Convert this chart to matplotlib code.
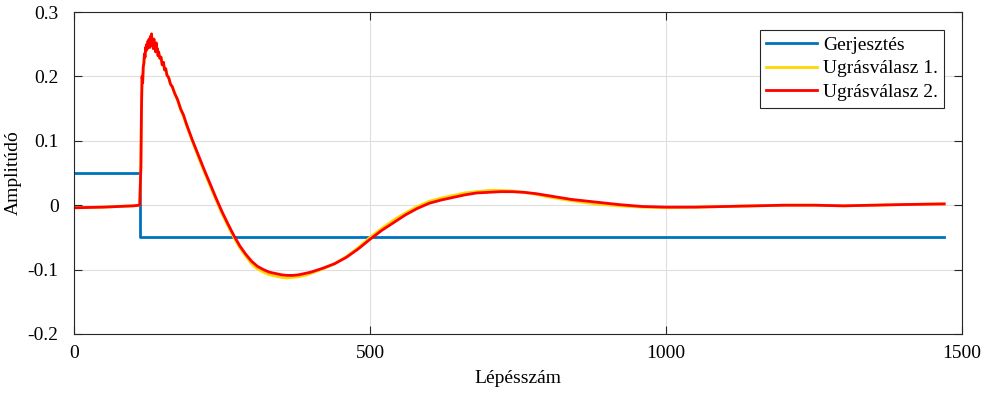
import matplotlib.pyplot as plt

# Excitation (step) signal
exc_x = [0, 111, 111, 1470]
exc_y = [0.05, 0.05, -0.05, -0.05]

# Step responses, sampled by eye from the reference
resp_x = [0, 50, 100, 111, 113, 114, 115, 116, 117, 118, 119, 120, 121, 122,
          123, 124, 125, 126, 127, 128, 129, 130, 131, 132, 133, 134, 135,
          136, 137, 138, 139, 140, 141, 142, 143, 145, 147, 149, 151, 153,
          155, 157, 160, 163, 166, 170, 175, 180, 185, 190, 200, 210, 220,
          230, 240, 250, 260, 270, 280, 290, 300, 310, 320, 330, 340, 350,
          360, 370, 380, 390, 400, 420, 440, 460, 480, 500, 520, 540, 560,
          580, 600, 620, 640, 660, 680, 700, 720, 740, 760, 780, 800, 840,
          880, 920, 960, 1000, 1050, 1100, 1150, 1200, 1250, 1300, 1350,
          1400, 1470]

resp2 = [-0.004, -0.003, -0.001, 0.0, 0.06, 0.15, 0.20, 0.19, 0.215, 0.22,
         0.235, 0.23, 0.245, 0.24, 0.25, 0.243, 0.255, 0.248, 0.258, 0.245,
         0.262, 0.252, 0.266, 0.248, 0.255, 0.243, 0.258, 0.245, 0.25, 0.238,
         0.252, 0.24, 0.243, 0.232, 0.238, 0.228, 0.23, 0.218, 0.222, 0.21,
         0.212, 0.202, 0.198, 0.188, 0.184, 0.174, 0.164, 0.150, 0.140, 0.126,
         0.101, 0.078, 0.055, 0.033, 0.011, -0.010, -0.029, -0.047, -0.063,
         -0.076, -0.087, -0.095, -0.100, -0.104, -0.106, -0.108, -0.109,
         -0.109, -0.108, -0.106, -0.104, -0.098, -0.091, -0.081, -0.068,
         -0.053, -0.039, -0.027, -0.015, -0.005, 0.003, 0.008, 0.012, 0.016,
         0.019, 0.020, 0.021, 0.021, 0.020, 0.018, 0.015, 0.009, 0.005, 0.001,
         -0.002, -0.003, -0.003, -0.002, -0.001, 0.000, 0.000, -0.001, 0.000,
         0.001, 0.002]

resp1 = [-0.004, -0.003, -0.001, 0.0, 0.06, 0.15, 0.20, 0.19, 0.215, 0.22,
         0.235, 0.23, 0.245, 0.24, 0.25, 0.243, 0.255, 0.248, 0.258, 0.245,
         0.262, 0.252, 0.266, 0.248, 0.255, 0.243, 0.258, 0.245, 0.25, 0.238,
         0.252, 0.24, 0.243, 0.232, 0.238, 0.228, 0.23, 0.218, 0.222, 0.21,
         0.212, 0.202, 0.198, 0.188, 0.184, 0.173, 0.163, 0.148, 0.138, 0.124,
         0.099, 0.075, 0.052, 0.030, 0.008, -0.013, -0.032, -0.050, -0.066,
         -0.079, -0.091, -0.099, -0.104, -0.108, -0.110, -0.112, -0.113,
         -0.112, -0.111, -0.109, -0.106, -0.099, -0.091, -0.080, -0.066,
         -0.050, -0.036, -0.023, -0.012, -0.002, 0.006, 0.011, 0.015, 0.019,
         0.021, 0.023, 0.023, 0.022, 0.020, 0.017, 0.013, 0.007, 0.002, -0.001,
         -0.003, -0.004, -0.003, -0.002, -0.001, 0.000, 0.000, -0.001, 0.000,
         0.001, 0.002]

x_ticks = [0, 500, 1000, 1500]
y_ticks = [-0.2, -0.1, 0, 0.1, 0.2, 0.3]
y_ticklabels = ['-0.2', '-0.1', '0', '0.1', '0.2', '0.3']

plt.rcParams['font.family'] = ['Liberation Serif', 'DejaVu Serif']

fig = plt.figure(figsize=(9.84, 3.94), dpi=100)
ax = fig.add_axes([0.0752, 0.1523, 0.9024, 0.8172])

ax.plot(exc_x, exc_y, color='#0072BD', lw=2.0, label='Gerjesztés')
ax.plot(resp_x, resp1, color='#FFD700', lw=2.0, label='Ugrásválasz 1.')
ax.plot(resp_x, resp2, color='#FF0000', lw=2.0, label='Ugrásválasz 2.')

ax.set_xlim(0, 1500)
ax.set_ylim(-0.2, 0.3)
ax.set_xticks(x_ticks)
ax.set_xticklabels([str(t) for t in x_ticks])
ax.set_yticks(y_ticks)
ax.set_yticklabels(y_ticklabels)

ax.grid(True, color='#dfdfdf', lw=0.8)
ax.set_axisbelow(True)
for s in ax.spines.values():
    s.set_color('#262626')
    s.set_linewidth(0.8)
ax.tick_params(direction='in', length=6, width=0.8, color='#262626',
               top=True, right=True, labelsize=14)
ax.tick_params(axis='x', pad=8)
ax.tick_params(axis='y', pad=11)

ax.set_xlabel('Lépésszám', fontsize=14, labelpad=6)
ax.set_ylabel('Amplitúdó', fontsize=14, labelpad=4)

leg = ax.legend(loc='upper right', fontsize=14, fancybox=False, framealpha=1,
                edgecolor='#262626', handlelength=2.6, labelspacing=0.3,
                borderpad=0.35, handletextpad=0.3, borderaxespad=0.9)
leg.get_frame().set_linewidth(0.8)

fig.savefig('out.png', dpi=100)
